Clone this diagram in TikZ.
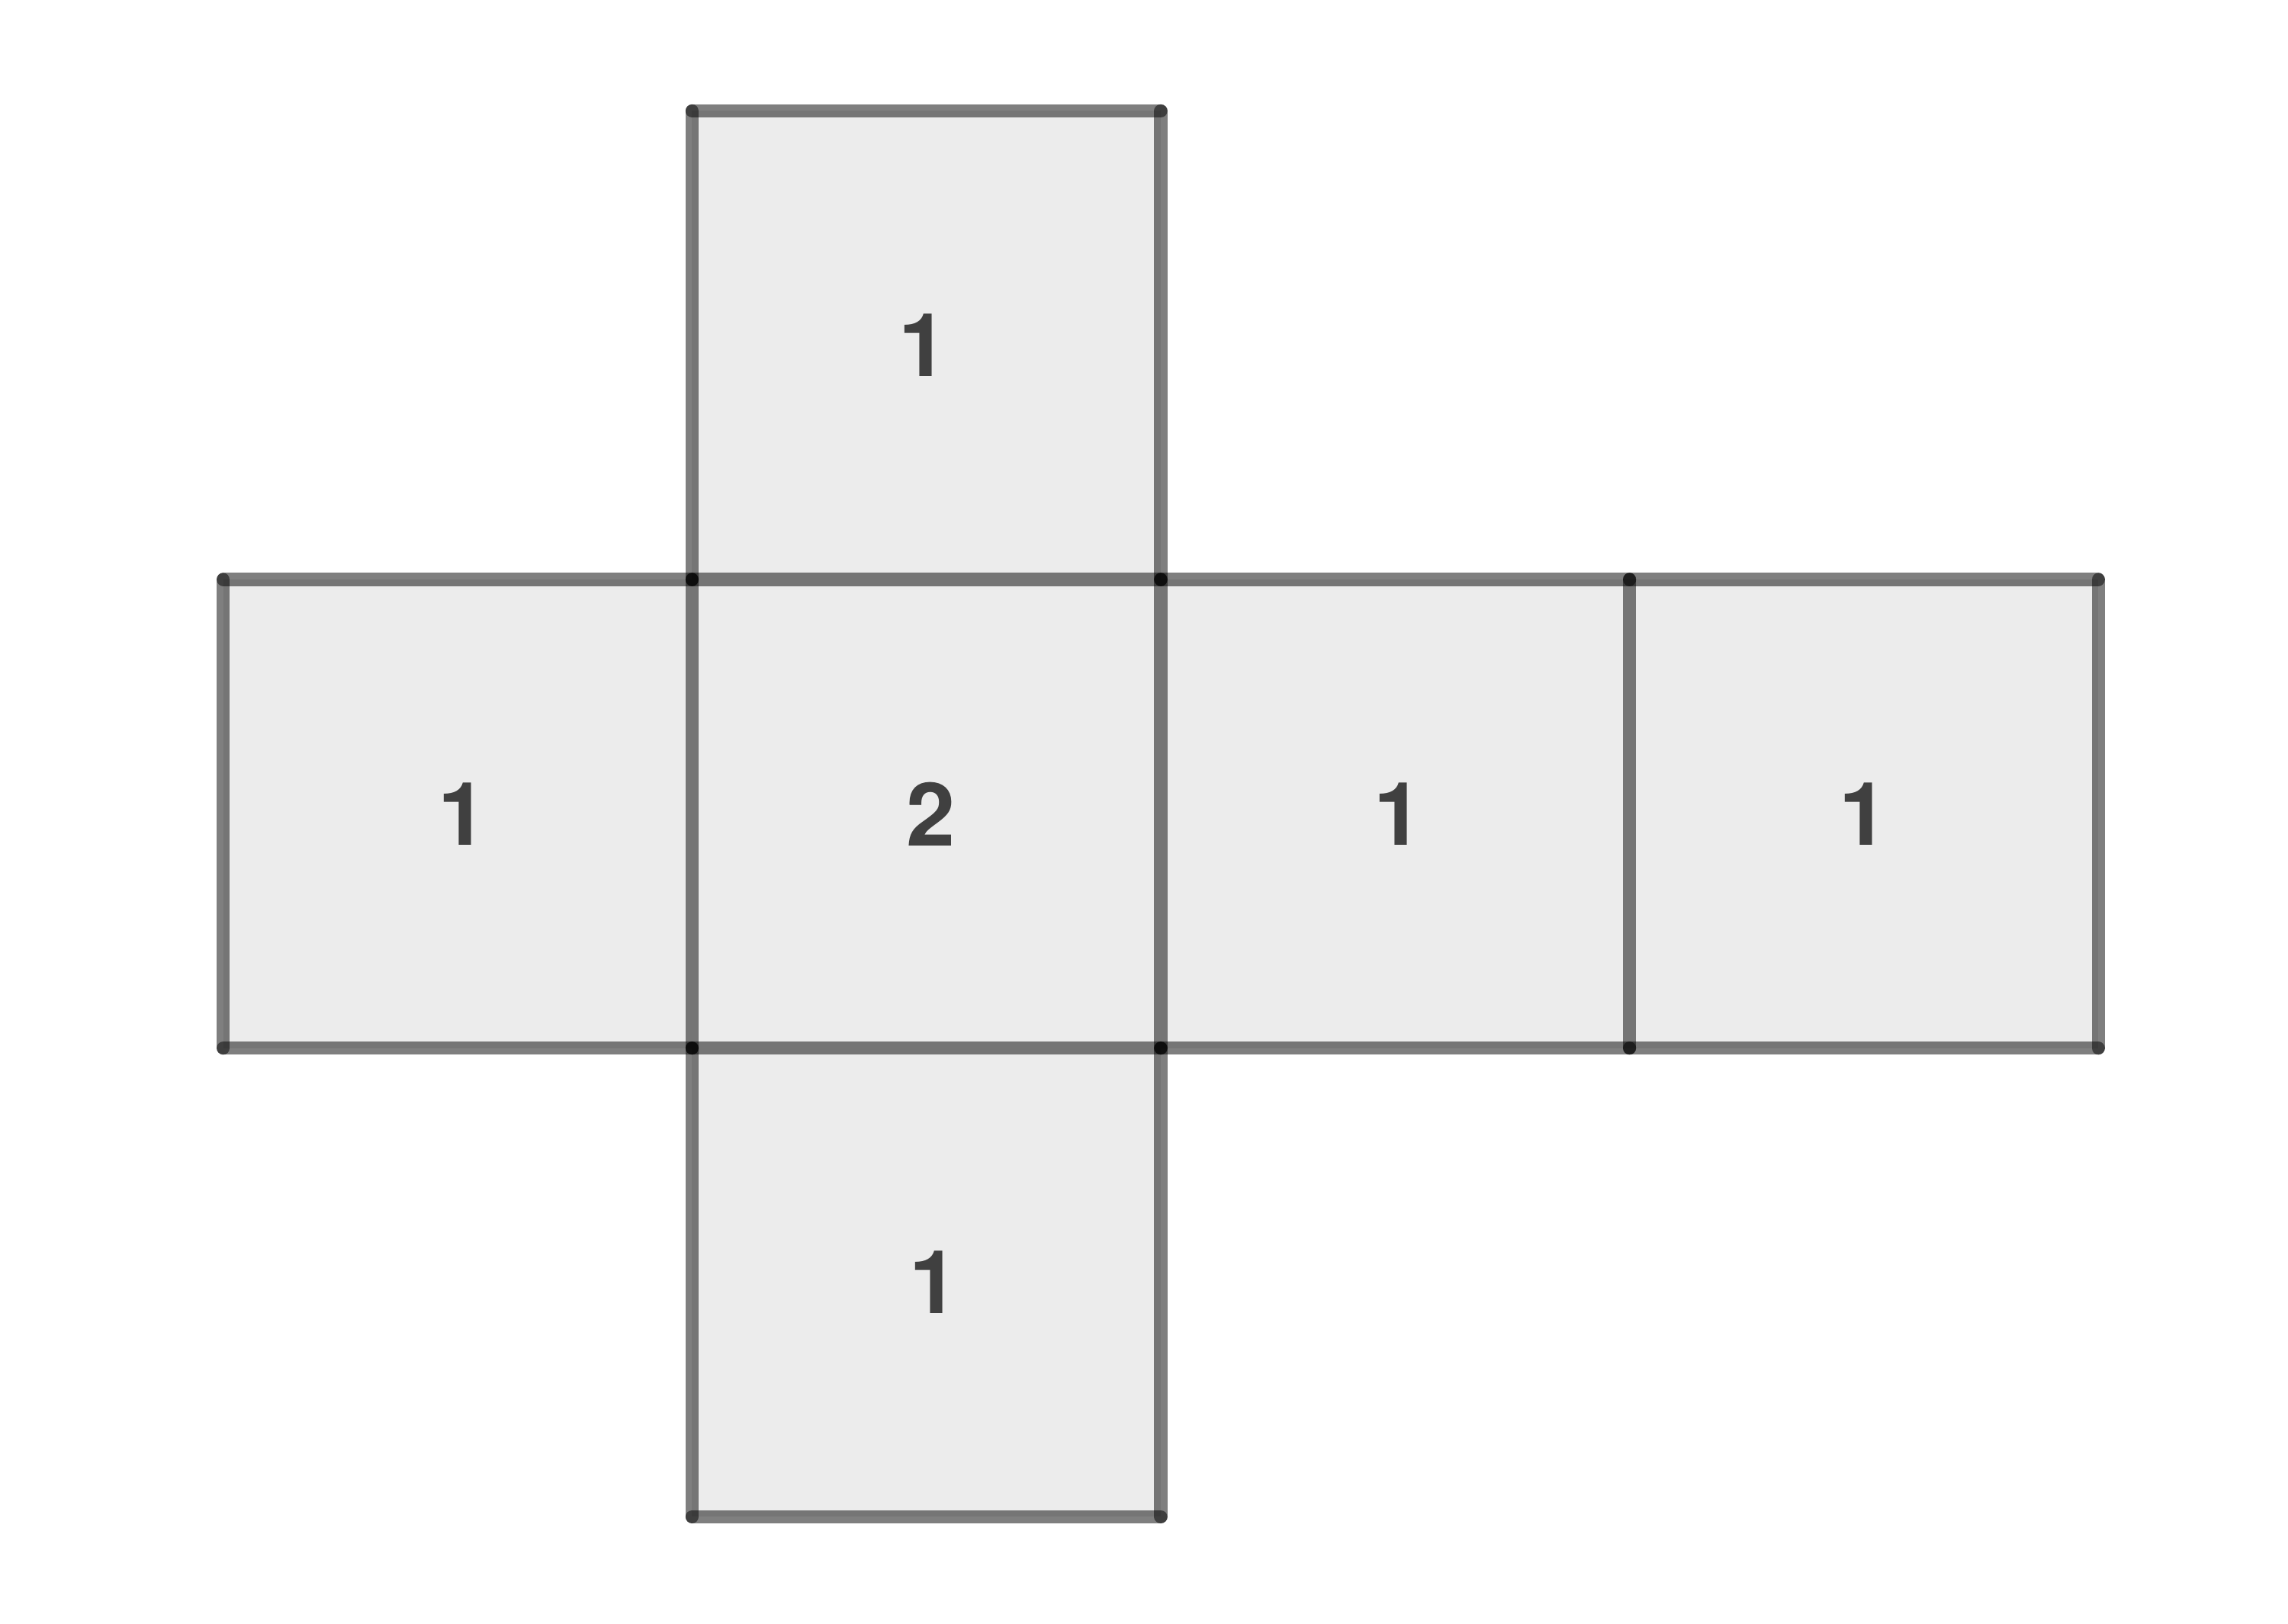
\documentclass[tikz,border=0pt]{standalone}
\usepackage{fontspec}
\setmainfont{TeX Gyre Heros}
\usepackage{xcolor}
\usepackage{tikz}
\definecolor{facegray}{HTML}{ECECEC}
\definecolor{labelgray}{HTML}{404040}
\tikzstyle{face} = [fill=facegray, draw=none]
\tikzstyle{edge} = [line width=2.4pt, draw=black, draw opacity=0.5, line cap=round]
\tikzstyle{count} = [font=\fontsize{16}{19}\selectfont\bfseries, text=labelgray]

\begin{document}
\begin{tikzpicture}
    \useasboundingbox (-1.429,-3.682) rectangle (13.214,6.710);

    \fill [face] (3,-3) rectangle (6,6);
    \fill [face] (0,0) rectangle (12,3);

    \node (faceTop) [count] at (4.48,4.5) {1};
    \node (faceLeft) [count] at (1.53,1.5) {1};
    \node (faceMid) [count] at (4.53,1.5) {2};
    \node (faceRight) [count] at (7.52,1.5) {1};
    \node (faceFar) [count] at (10.5,1.5) {1};
    \node (faceBot) [count] at (4.55,-1.5) {1};

    \foreach \x in {0,3,6,9} {
        \draw [edge] (\x,3) -- ++(3,0);
        \draw [edge] (\x,0) -- ++(3,0);
    }
    \draw [edge] (3,6) -- (6,6);
    \draw [edge] (3,-3) -- (6,-3);
    \foreach \x in {0,9,12}
        \draw [edge] (\x,0) -- ++(0,3);
    \foreach \x in {3,6}
        \foreach \y in {-3,0,3}
            \draw [edge] (\x,\y) -- ++(0,3);
\end{tikzpicture}
\end{document}
